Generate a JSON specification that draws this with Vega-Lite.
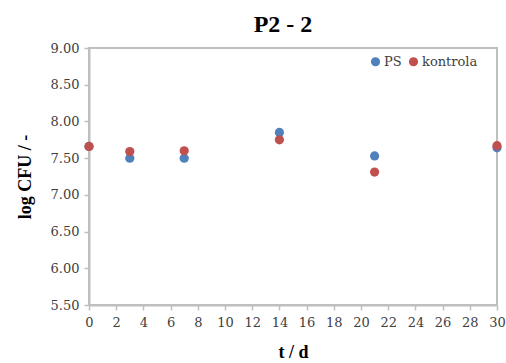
{
  "$schema": "https://vega.github.io/schema/vega-lite/v6.json",
  "width": 408,
  "height": 257,
  "autosize": {"type": "none"},
  "padding": {"left": 89, "top": 48, "right": 9, "bottom": 58},
  "background": "white",
  "title": {"text": "P2 - 2", "font": "Liberation Serif", "fontSize": 24, "fontWeight": "bold", "color": "#000000", "anchor": "middle", "offset": 5, "dx": -10},
  "config": {
    "view": {"stroke": "#BFBFBF", "strokeWidth": 2},
    "axis": {"labelFont": "DejaVu Serif", "labelFontSize": 13, "labelColor": "#404040", "titleFont": "Liberation Serif", "titleFontSize": 18, "titleFontWeight": "bold", "titleColor": "#000000", "domainColor": "#BFBFBF", "domainWidth": 2, "tickColor": "#BFBFBF", "tickWidth": 1.5, "tickSize": 5, "grid": false},
    "legend": {"labelFont": "DejaVu Serif"}
  },
  "data": {"values": [
    {"t": 0, "v": 7.66, "s": "PS"},
    {"t": 3, "v": 7.50, "s": "PS"},
    {"t": 7, "v": 7.50, "s": "PS"},
    {"t": 14, "v": 7.85, "s": "PS"},
    {"t": 21, "v": 7.53, "s": "PS"},
    {"t": 30, "v": 7.64, "s": "PS"},
    {"t": 0, "v": 7.66, "s": "kontrola"},
    {"t": 3, "v": 7.59, "s": "kontrola"},
    {"t": 7, "v": 7.60, "s": "kontrola"},
    {"t": 14, "v": 7.75, "s": "kontrola"},
    {"t": 21, "v": 7.31, "s": "kontrola"},
    {"t": 30, "v": 7.67, "s": "kontrola"}
  ]},
  "mark": {"type": "circle", "size": 85, "opacity": 1},
  "encoding": {
    "x": {"field": "t", "type": "quantitative", "scale": {"domain": [0, 30], "nice": false}, "axis": {"values": [0,2,4,6,8,10,12,14,16,18,20,22,24,26,28,30], "title": "t / d", "labelPadding": 6, "titlePadding": 14, "labelFlush": false}},
    "y": {"field": "v", "type": "quantitative", "scale": {"domain": [5.5, 9], "nice": false, "zero": false}, "axis": {"values": [5.5,6,6.5,7,7.5,8,8.5,9], "format": ".2f", "title": "log CFU / -", "labelPadding": 5, "titlePadding": 16}},
    "color": {"field": "s", "type": "nominal", "scale": {"domain": ["PS", "kontrola"], "range": ["#4F81BD", "#C0504D"]},
      "legend": {"title": null, "orient": "none", "legendX": 280, "legendY": 7, "direction": "horizontal", "labelFontSize": 13, "labelColor": "#404040", "symbolType": "circle", "symbolSize": 85, "columnPadding": 5, "labelOffset": 2}},
    "order": {"field": "s", "sort": "ascending"}
  }
}
